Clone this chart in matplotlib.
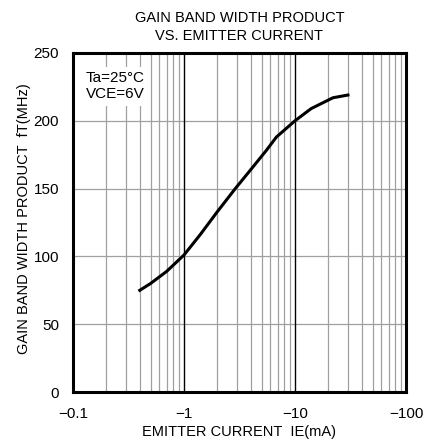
import numpy as np
import matplotlib.pyplot as plt
from matplotlib.ticker import FixedLocator, NullFormatter

plt.rcParams['font.family'] = ['Liberation Sans', 'DejaVu Sans']

# emitter current magnitude (mA) and gain bandwidth product (MHz)
ie = [0.4, 0.5, 0.7, 1.0, 1.4, 2.0, 2.9, 4.0, 5.5, 6.8, 10, 14, 22, 30]
ft = [75, 80, 89, 101, 116, 133, 150, 164, 178, 188, 200, 209, 217, 219]

x_ticks = [0.1, 1, 10, 100]
x_labels = ['\u22120.1', '\u22121', '\u221210', '\u2212100']
y_ticks = [0, 50, 100, 150, 200, 250]

fig = plt.figure(figsize=(4.24, 4.48), dpi=100)
ax = fig.add_axes([0.172, 0.125, 0.7855, 0.7567])

ax.set_xscale('log')
ax.set_xlim(0.1, 100)
ax.set_ylim(0, 250)

# minor log grid
minor = [m * d for d in [0.1, 1, 10] for m in range(2, 10)]
ax.xaxis.set_minor_locator(FixedLocator(minor))
ax.xaxis.set_minor_formatter(NullFormatter())
ax.grid(which='minor', axis='x', color='#a0a0a0', lw=0.9)
for v in [1, 10]:
    ax.axvline(v, color='black', lw=1.0, zorder=1.5)
for v in y_ticks[1:-1]:
    ax.axhline(v, color='#a0a0a0', lw=0.9, zorder=1)

ax.plot(ie, ft, color='black', lw=2.2, zorder=3)

ax.set_xticks(x_ticks)
ax.set_xticklabels(x_labels)
ax.set_yticks(y_ticks)
ax.tick_params(which='both', length=0, labelsize=11)
ax.tick_params(axis='x', pad=11)
ax.tick_params(axis='y', pad=10)

for s in ax.spines.values():
    s.set_linewidth(2.2)

ax.text(0.13, 237, 'Ta=25\u00b0C\nVCE=6V', fontsize=11, va='top', ha='left',
        linespacing=1.25, zorder=4,
        bbox=dict(facecolor='white', edgecolor='none', pad=3))

ax.set_xlabel('EMITTER CURRENT  IE(mA)', fontsize=10.5, labelpad=3)
ax.set_ylabel('GAIN BAND WIDTH PRODUCT  fT(MHz)', fontsize=10.5, labelpad=4)
ax.yaxis.set_label_coords(-0.125, 0.51)
ax.set_title('GAIN BAND WIDTH PRODUCT\nVS. EMITTER CURRENT', fontsize=10.5,
             linespacing=1.45, pad=9)

fig.savefig('out.png', dpi=100)
